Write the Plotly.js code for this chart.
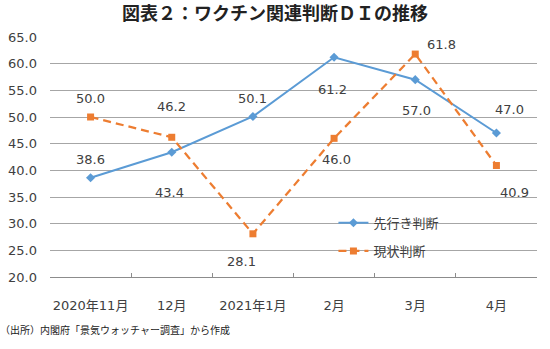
<!DOCTYPE html>
<html>
<head>
<meta charset="utf-8">
<script src="https://cdn.plot.ly/plotly-3.0.1.min.js"></script>
<style>html,body{margin:0;padding:0;background:#fff;}#chart{width:550px;height:349px;}</style>
</head>
<body>
<div id="chart"></div>
<script>
// ---- data ----
const categories = ["2020年11月", "12月", "2021年1月", "2月", "3月", "4月"];
const seriesNames = ["先行き判断", "現状判断"];
const outlookValues = [38.6, 43.4, 50.1, 61.2, 57.0, 47.0];   // 先行き判断
const currentValues = [50.0, 46.2, 28.1, 46.0, 61.8, 40.9];   // 現状判断
const yTicks = [20, 25, 30, 35, 40, 45, 50, 55, 60, 65];
const titleText = "図表２：ワクチン関連判断ＤＩの推移";
const sourceText = "（出所）内閣府「景気ウォッチャー調査」から作成";

// ---- label placement (pixel offsets, not data) ----
const outlookLabelShift = [[0, 18], [-2, -40], [0, 18], [-2, -32], [1, -31], [13, 24]];
const currentLabelShift = [[0, 19], [0, 31], [-11, -28], [2, -21], [26, 10], [18, -27]];

const blue = "#5B9BD5";
const orange = "#ED7D31";
const txt = "#404040";
const fam = "DejaVu Sans, Noto Sans CJK JP, sans-serif";

const traces = [
  {
    x: categories, y: outlookValues, name: seriesNames[0], type: "scatter", mode: "lines+markers",
    line: {color: blue, width: 2},
    marker: {symbol: "diamond", size: 7, color: blue},
    legend: "legend"
  },
  {
    x: categories, y: currentValues, name: seriesNames[1], type: "scatter", mode: "lines+markers",
    line: {color: orange, width: 2.25, dash: "8px,5px"},
    marker: {symbol: "square", size: 7, color: orange},
    legend: "legend2"
  }
];

const annotations = [];
function addLabels(vals, shifts) {
  vals.forEach((v, i) => {
    annotations.push({
      x: categories[i], y: v, xref: "x", yref: "y", text: v.toFixed(1), showarrow: false,
      xshift: shifts[i][0], yshift: shifts[i][1],
      font: {family: fam, size: 13, color: txt}
    });
  });
}
addLabels(outlookValues, outlookLabelShift);
addLabels(currentValues, currentLabelShift);
annotations.push({
  text: sourceText, xref: "paper", yref: "paper", x: -0.106, y: -0.22,
  xanchor: "left", yanchor: "middle", showarrow: false,
  font: {family: "Noto Sans CJK JP, sans-serif", size: 10, color: "#222"}
});

const legendCommon = {
  bgcolor: "rgba(0,0,0,0)", borderwidth: 0,
  xanchor: "left", yanchor: "middle",
  font: {family: "Noto Sans CJK JP, sans-serif", size: 13, color: txt}
};

const layout = {
  width: 550, height: 349,
  margin: {l: 49.5, r: 12.5, t: 37.3, b: 72.3, pad: 0},
  paper_bgcolor: "#fff", plot_bgcolor: "#fff",
  title: {
    text: "<b>" + titleText + "</b>",
    font: {family: "Noto Sans CJK JP, sans-serif", size: 18, color: "#222"},
    x: 0.5, xanchor: "center", y: 0.96, yanchor: "middle", yref: "container"
  },
  xaxis: {
    type: "category", tickson: "boundaries", ticks: "inside", ticklen: 4, tickcolor: "#8c8c8c",
    showline: true, linecolor: "#8c8c8c", linewidth: 1, showgrid: false,
    tickangle: 0,
    tickfont: {family: fam, size: 13, color: txt}, ticklabelstandoff: 16,
    range: [-0.5, 5.5], fixedrange: true
  },
  yaxis: {
    range: [20, 65], tickvals: yTicks, tickformat: ".1f",
    showgrid: true, gridcolor: "#a6a6a6", gridwidth: 1, zeroline: false,
    showline: false, ticks: "",
    tickfont: {family: fam, size: 13, color: txt}, ticklabelstandoff: 12
  },
  showlegend: true,
  legend: Object.assign({}, legendCommon, {x: 0.582, y: 0.2256}),
  legend2: Object.assign({}, legendCommon, {x: 0.582, y: 0.1086}),
  annotations: annotations
};

Plotly.newPlot("chart", traces, layout, {displayModeBar: false, staticPlot: true});
</script>
</body>
</html>
